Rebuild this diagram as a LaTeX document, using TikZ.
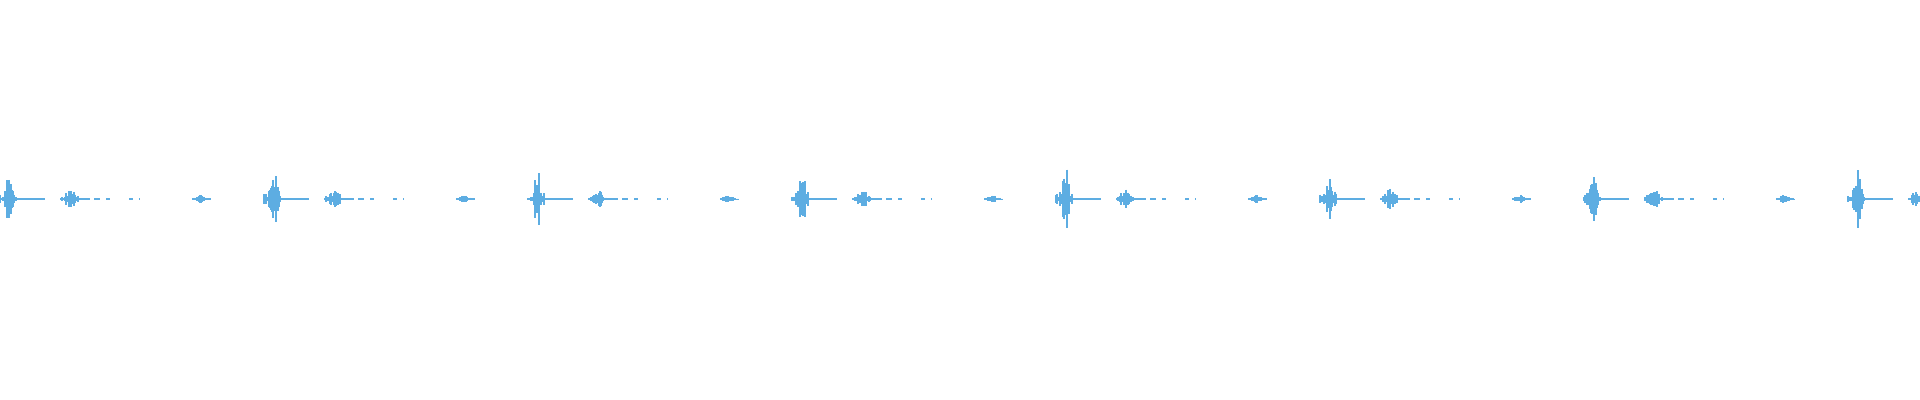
\documentclass[tikz,border=0pt]{standalone}
\usetikzlibrary{positioning}
\definecolor{wavecolor}{RGB}{93,173,226}

\begin{document}
\begin{tikzpicture}[x=0.01cm, y=-0.01cm,
    wave/.style={draw=wavecolor, line width=0.012cm},
    flat/.style={draw=wavecolor, line width=0.012cm}]
    \useasboundingbox (0,0) rectangle (1920,400);
    \pgfmathsetseed{7}
    % repeated bursts
    \foreach \p in {0,264,...,1848} {
        % main burst
        \foreach \i in {0,...,16} {
            \pgfmathsetmacro{\amp}{(5 + 28*exp(-((\i-10)^2)/14))*(0.2+0.8*rnd^2)}
            \draw[wave] (\p+\i,199-\amp) -- (\p+\i,199+\amp);
        }
        \draw[flat] (\p+16,199) -- (\p+45,199);
        % second burst
        \foreach \i in {61,...,78} {
            \pgfmathsetmacro{\amp}{(2 + 9*exp(-((\i-70)^2)/30))*(0.3+0.7*rnd^2)}
            \draw[wave] (\p+\i,199-\amp) -- (\p+\i,199+\amp);
        }
        \draw[flat] (\p+78,199) -- (\p+90,199);
        \draw[flat] (\p+94,199) -- (\p+100,199);
        \draw[flat] (\p+106,199) -- (\p+110,199);
        \draw[flat] (\p+129,199) -- (\p+133,199);
        \draw[flat] (\p+139,199) -- (\p+140,199);
        % small burst
        \foreach \i in {193,...,210} {
            \pgfmathsetmacro{\amp}{(1 + 3*exp(-((\i-200)^2)/20))*(0.4+0.6*rnd)}
            \draw[wave] (\p+\i,199-\amp) -- (\p+\i,199+\amp);
        }
    }
\end{tikzpicture}
\end{document}
